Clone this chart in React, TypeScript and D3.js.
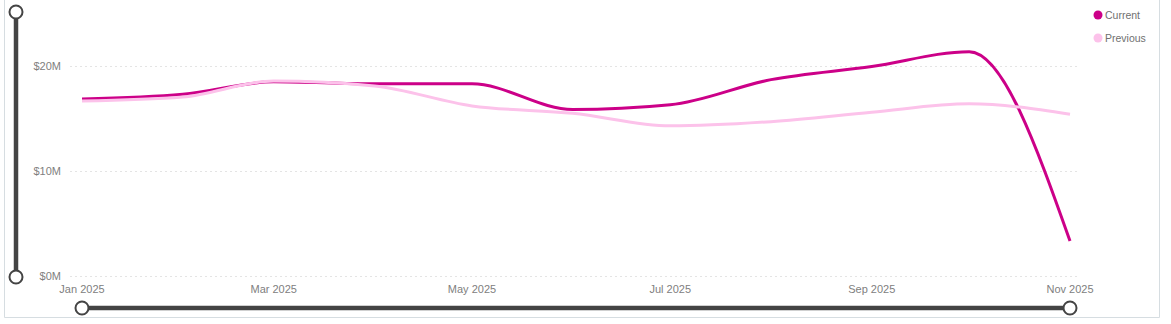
import { useEffect, useRef } from 'react';
import * as d3 from 'd3';

const WIDTH = 1171;
const HEIGHT = 324;

const MONTHS = ['2025-01', '2025-02', '2025-03', '2025-04', '2025-05', '2025-06', '2025-07', '2025-08', '2025-09', '2025-10', '2025-11'];
const CURRENT = [16.86, 17.3, 18.5, 18.3, 18.3, 15.85, 16.3, 18.7, 19.95, 21.36, 3.33];
const PREVIOUS = [16.67, 17.05, 18.57, 18.1, 16.2, 15.5, 14.3, 14.7, 15.6, 16.4, 15.4];
const Y_TICKS = [0, 10, 20];
const SERIES = [
  { name: 'Current', values: CURRENT, color: '#cc0088' },
  { name: 'Previous', values: PREVIOUS, color: '#fcc2ea' },
];

const parseMonth = d3.timeParse('%Y-%m');

export default function App() {
  const svgRef = useRef<SVGSVGElement>(null);

  useEffect(() => {
    const svg = d3.select(svgRef.current);
    svg.selectAll('*').remove();

    const dates = MONTHS.map((m) => parseMonth(m) as Date);
    const x = d3.scaleTime().domain([dates[0], dates[dates.length - 1]]).range([82, 1070]);
    const y = d3.scaleLinear().domain([0, 20]).range([276, 66]);
    const font = '"Liberation Sans", Arial, sans-serif';

    // frame
    svg.append('path')
      .attr('d', 'M4.5,0 V317.5 H1159.5 V0')
      .attr('fill', 'none')
      .attr('stroke', '#d6dde1')
      .attr('stroke-width', 1);

    // gridlines + y labels
    Y_TICKS.forEach((t) => {
      svg.append('line')
        .attr('x1', 70).attr('x2', 1077)
        .attr('y1', Math.round(y(t)) + 0.5).attr('y2', Math.round(y(t)) + 0.5)
        .attr('stroke', '#e4e4e4')
        .attr('stroke-dasharray', '2,3');
      svg.append('text')
        .attr('x', 61).attr('y', y(t) + 4)
        .attr('text-anchor', 'end')
        .style('font-family', font).style('font-size', '11px').style('fill', '#808080')
        .text(`$${t}M`);
    });

    // x labels
    const fmt = d3.timeFormat('%b %Y');
    x.ticks(d3.timeMonth.every(2)!).forEach((d) => {
      svg.append('text')
        .attr('x', x(d)).attr('y', 293)
        .attr('text-anchor', 'middle')
        .style('font-family', font).style('font-size', '11px').style('fill', '#808080')
        .text(fmt(d));
    });

    // series lines
    const line = d3.line<number>()
      .x((_, i) => x(dates[i]))
      .y((v) => y(v))
      .curve(d3.curveMonotoneX);

    SERIES.forEach((s) => {
      svg.append('path')
        .datum(s.values)
        .attr('d', line)
        .attr('fill', 'none')
        .attr('stroke', s.color)
        .attr('stroke-width', 3)
        .attr('stroke-linecap', 'butt');
    });

    // legend
    SERIES.forEach((s, i) => {
      const ly = 15 + i * 23;
      svg.append('circle').attr('cx', 1098).attr('cy', ly).attr('r', 4.5).attr('fill', s.color);
      svg.append('text')
        .attr('x', 1105).attr('y', ly + 4)
        .style('font-family', font).style('font-size', '10.5px').style('fill', '#707070')
        .text(s.name);
    });

    // range sliders
    const slider = '#444444';
    svg.append('line').attr('x1', 16).attr('x2', 16).attr('y1', 12).attr('y2', 277)
      .attr('stroke', slider).attr('stroke-width', 4.5);
    svg.append('line').attr('x1', 82).attr('x2', 1070).attr('y1', 308).attr('y2', 308)
      .attr('stroke', slider).attr('stroke-width', 4.5);
    [[16, 12], [16, 277], [82, 308], [1070, 308]].forEach(([cx, cy]) => {
      svg.append('circle').attr('cx', cx).attr('cy', cy).attr('r', 6.5)
        .attr('fill', '#fff').attr('stroke', slider).attr('stroke-width', 2);
    });
  }, []);

  return (
    <svg
      ref={svgRef}
      width={WIDTH}
      height={HEIGHT}
      style={{ position: 'absolute', left: 0, top: 0, background: '#fff' }}
    />
  );
}
